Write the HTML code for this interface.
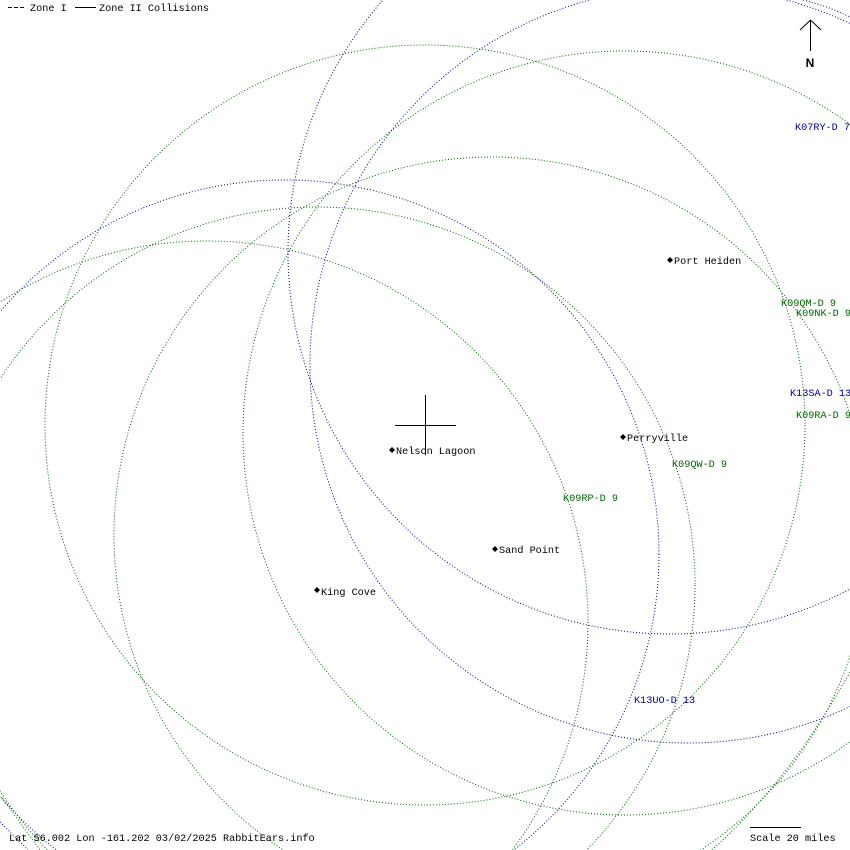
<!DOCTYPE html>
<html><head><meta charset="utf-8"><style>
html,body{margin:0;padding:0;background:#fff;width:850px;height:850px;overflow:hidden;}
svg{display:block;}
text{font-family:"Liberation Mono","DejaVu Sans Mono",monospace;font-size:10.2px;}
</style></head><body>
<svg width="850" height="850" viewBox="0 0 850 850" xmlns="http://www.w3.org/2000/svg">
<rect width="850" height="850" fill="#fff"/>
<g fill="none" stroke-width="1" stroke-dasharray="1,2">
  <circle cx="285" cy="554" r="374" stroke="#000090"/>
  <circle cx="670" cy="252" r="382" stroke="#000090"/>
  <circle cx="688" cy="365" r="378" stroke="#000090"/>
  <path d="M803,0 Q828,6 850,17" stroke="#000090"/>
  <path d="M0,822 L28,850" stroke="#000090"/>
  <circle cx="425" cy="425" r="380" stroke="#006400"/>
  <circle cx="317" cy="585" r="378" stroke="#006400"/>
  <circle cx="207" cy="622" r="381" stroke="#006400"/>
  <circle cx="492" cy="535" r="378" stroke="#006400"/>
  <circle cx="625" cy="433" r="382" stroke="#006400"/>
  <path d="M712,850 Q790,780 850,672" stroke="#006400"/>
  <path d="M2,798 L40,850" stroke="#006400"/>
</g>
<g stroke="#000" stroke-width="1">
  <line x1="395" y1="425.5" x2="456" y2="425.5"/>
  <line x1="425.5" y1="395" x2="425.5" y2="455"/>
  <line x1="810.5" y1="20" x2="810.5" y2="51"/>
  <line x1="800" y1="30" x2="810.5" y2="20"/>
  <line x1="821" y1="30" x2="810.5" y2="20"/>
  <line x1="750" y1="827.5" x2="801" y2="827.5"/>
  <line x1="8" y1="7.5" x2="12" y2="7.5"/><line x1="14" y1="7.5" x2="18" y2="7.5"/><line x1="20" y1="7.5" x2="24" y2="7.5"/>
  <line x1="75" y1="7.5" x2="96" y2="7.5"/>
</g>
<text x="810" y="67" text-anchor="middle" style="font-family:'Liberation Sans',sans-serif;font-weight:bold;font-size:12px">N</text>
<text x="30" y="11">Zone I</text>
<text x="99" y="11">Zone II Collisions</text>
<text x="9" y="841">Lat 56.002 Lon -161.202 03/02/2025 RabbitEars.info</text>
<text x="750" y="841">Scale 20 miles</text>
<g fill="#000">
  <path d="M670,257 L673,260 L670,263 L667,260Z"/>
  <path d="M623,434 L626,437 L623,440 L620,437Z"/>
  <path d="M392,447 L395,450 L392,453 L389,450Z"/>
  <path d="M495,546 L498,549 L495,552 L492,549Z"/>
  <path d="M317,587 L320,590 L317,593 L314,590Z"/>
</g>
<text x="674" y="264">Port Heiden</text>
<text x="627" y="441">Perryville</text>
<text x="396" y="454">Nelson Lagoon</text>
<text x="499" y="553">Sand Point</text>
<text x="321" y="595">King Cove</text>
<text x="795" y="130" fill="#000090">K07RY-D 7</text>
<text x="781" y="306" fill="#006400">K09QM-D 9</text>
<text x="796" y="316" fill="#006400">K09NK-D 9</text>
<text x="790" y="396" fill="#000090">K13SA-D 13</text>
<text x="796" y="418" fill="#006400">K09RA-D 9</text>
<text x="672" y="467" fill="#006400">K09QW-D 9</text>
<text x="563" y="501" fill="#006400">K09RP-D 9</text>
<text x="634" y="703" fill="#000090">K13UO-D 13</text>
</svg>
</body></html>
